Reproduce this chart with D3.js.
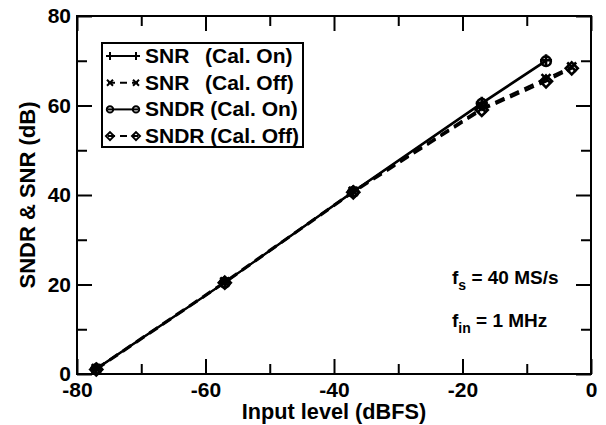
<!DOCTYPE html>
<html>
<head>
<meta charset="utf-8">
<script src="https://cdn.jsdelivr.net/npm/d3@7"></script>
<style>
  body { margin: 0; background: #fff; }
  text { font-family: "Liberation Sans", Arial, sans-serif; font-weight: bold; fill: #000; }
</style>
</head>
<body>
<svg id="graf" width="606" height="425"></svg>
<script>
// data
const levelOn  = [-77, -57, -37, -17, -7];
const levelOff = [-77, -57, -37, -17, -7, -3];
const snrOn   = [1.2, 20.5, 40.8, 60.6, 70.1];
const sndrOn  = [1.1, 20.4, 40.7, 60.4, 69.9];
const snrOff  = [1.2, 20.6, 40.8, 59.4, 66.0, 68.6];
const sndrOff = [1.0, 20.4, 40.6, 59.0, 65.4, 68.3];

const xMajor = [-80, -60, -40, -20, 0];
const xMinor = [-70, -50, -30, -10];
const yMajor = [0, 20, 40, 60, 80];
const yMinor = [10, 30, 50, 70];

const series = [
  {name: "SNR", cal: "(Cal. On)",  x: levelOn,  y: snrOn,   dash: null,   marker: "plus"},
  {name: "SNR", cal: "(Cal. Off)", x: levelOff, y: snrOff,  dash: "10,6", marker: "cross"},
  {name: "SNDR", cal: "(Cal. On)",  x: levelOn,  y: sndrOn,  dash: null,   marker: "circle"},
  {name: "SNDR", cal: "(Cal. Off)", x: levelOff, y: sndrOff, dash: "10,6", marker: "diamond"}
];

const svg = d3.select("#graf");
const mLeft = 77, mRight = 591, mTop = 16, mBottom = 374;

const x = d3.scaleLinear().domain([-80, 0]).range([mLeft, mRight]);
const y = d3.scaleLinear().domain([0, 80]).range([mBottom, mTop]);

function markerPath(type, s) {
  // s = half size
  if (type === "plus") return `M${-s},0H${s}M0,${-s}V${s}`;
  if (type === "cross") { const k = s * 0.75; return `M${-k},${-k}L${k},${k}M${-k},${k}L${k},${-k}`; }
  return `M0,${-s}L${s},0L0,${s}L${-s},0Z`;
}

function drawMarker(g, type, cx, cy, s, w) {
  if (type === "circle") {
    g.append("circle").attr("cx", cx).attr("cy", cy).attr("r", s * 0.8)
      .attr("fill", "none").attr("stroke", "#000").attr("stroke-width", w);
  } else {
    g.append("path").attr("d", markerPath(type, s))
      .attr("transform", `translate(${cx},${cy})`)
      .attr("fill", "none").attr("stroke", "#000").attr("stroke-width", w);
  }
}

// axes
function styleAxis(g) {
  g.select(".domain").remove();
  g.selectAll("line").attr("stroke", "#000").attr("stroke-width", 2);
  g.selectAll("text").style("font-size", "21px").attr("font-family", null);
}

svg.append("g").attr("transform", `translate(0,${mBottom})`)
  .call(d3.axisBottom(x).tickValues(xMajor).tickSizeInner(-15).tickSizeOuter(0).tickPadding(8).tickFormat(d => String(d)))
  .call(styleAxis);
svg.append("g").attr("transform", `translate(0,${mBottom})`)
  .call(d3.axisBottom(x).tickValues(xMinor).tickSizeInner(-10).tickSizeOuter(0).tickFormat(""))
  .call(styleAxis);
svg.append("g").attr("transform", `translate(0,${mTop})`)
  .call(d3.axisTop(x).tickValues(xMajor).tickSizeInner(-15).tickSizeOuter(0).tickFormat(""))
  .call(styleAxis);
svg.append("g").attr("transform", `translate(0,${mTop})`)
  .call(d3.axisTop(x).tickValues(xMinor).tickSizeInner(-10).tickSizeOuter(0).tickFormat(""))
  .call(styleAxis);

svg.append("g").attr("transform", `translate(${mLeft},0)`)
  .call(d3.axisLeft(y).tickValues(yMajor).tickSizeInner(-15).tickSizeOuter(0).tickPadding(6).tickFormat(d => String(d)))
  .call(styleAxis);
svg.append("g").attr("transform", `translate(${mLeft},0)`)
  .call(d3.axisLeft(y).tickValues(yMinor).tickSizeInner(-10).tickSizeOuter(0).tickFormat(""))
  .call(styleAxis);
svg.append("g").attr("transform", `translate(${mRight},0)`)
  .call(d3.axisRight(y).tickValues(yMajor).tickSizeInner(-15).tickSizeOuter(0).tickFormat(""))
  .call(styleAxis);
svg.append("g").attr("transform", `translate(${mRight},0)`)
  .call(d3.axisRight(y).tickValues(yMinor).tickSizeInner(-10).tickSizeOuter(0).tickFormat(""))
  .call(styleAxis);

// frame
svg.append("rect").attr("x", mLeft).attr("y", mTop)
  .attr("width", mRight - mLeft).attr("height", mBottom - mTop)
  .attr("fill", "none").attr("stroke", "#000").attr("stroke-width", 2);

// axis titles
svg.append("text").attr("x", 334).attr("y", 419)
  .attr("text-anchor", "middle").style("font-size", "21.7px").text("Input level (dBFS)");
svg.append("text").attr("transform", `translate(35,${(mTop + mBottom) / 2}) rotate(-90)`)
  .attr("text-anchor", "middle").style("font-size", "22px").text("SNDR & SNR (dB)");

// lines and markers
const plot = svg.append("g");
series.forEach(s => {
  const pts = s.x.map((v, i) => [v, s.y[i]]);
  plot.append("path").datum(pts)
    .attr("d", d3.line().x(d => x(d[0])).y(d => y(d[1])))
    .attr("fill", "none").attr("stroke", "#000")
    .attr("stroke-width", s.dash ? 2.5 : 2)
    .attr("stroke-dasharray", s.dash);
  pts.forEach(d => drawMarker(plot, s.marker, x(d[0]), y(d[1]), 6, 2.6));
});

// legend
const lg = svg.append("g");
lg.append("rect").attr("x", 102).attr("y", 43).attr("width", 201).attr("height", 104)
  .attr("fill", "#fff").attr("stroke", "#000").attr("stroke-width", 2);
series.forEach((s, i) => {
  const cy = 56 + i * 26.7;
  lg.append("line").attr("x1", 108).attr("x2", 138).attr("y1", cy).attr("y2", cy)
    .attr("stroke", "#000").attr("stroke-width", 2).attr("stroke-dasharray", s.dash ? "7,5" : null);
  drawMarker(lg, s.marker, 110, cy, 4, 2);
  drawMarker(lg, s.marker, 136, cy, 4, 2);
  if (s.name === "SNR") {
    lg.append("text").attr("x", 145).attr("y", cy + 7).style("font-size", "21px").text(s.name);
    lg.append("text").attr("x", 205).attr("y", cy + 7).style("font-size", "21px").text(s.cal);
  } else {
    lg.append("text").attr("x", 145).attr("y", cy + 7).style("font-size", "21px").text(s.name + " " + s.cal);
  }
});

// annotation
const ann = svg.append("g");
const t1 = ann.append("text").attr("x", 452).attr("y", 284).style("font-size", "19px");
t1.append("tspan").text("f");
t1.append("tspan").attr("dy", 6).style("font-size", "14px").text("s");
t1.append("tspan").attr("dy", -6).text(" = 40 MS/s");
const t2 = ann.append("text").attr("x", 452).attr("y", 327).style("font-size", "19px");
t2.append("tspan").text("f");
t2.append("tspan").attr("dy", 6).style("font-size", "14px").text("in");
t2.append("tspan").attr("dy", -6).text(" = 1 MHz");
</script>
</body>
</html>
